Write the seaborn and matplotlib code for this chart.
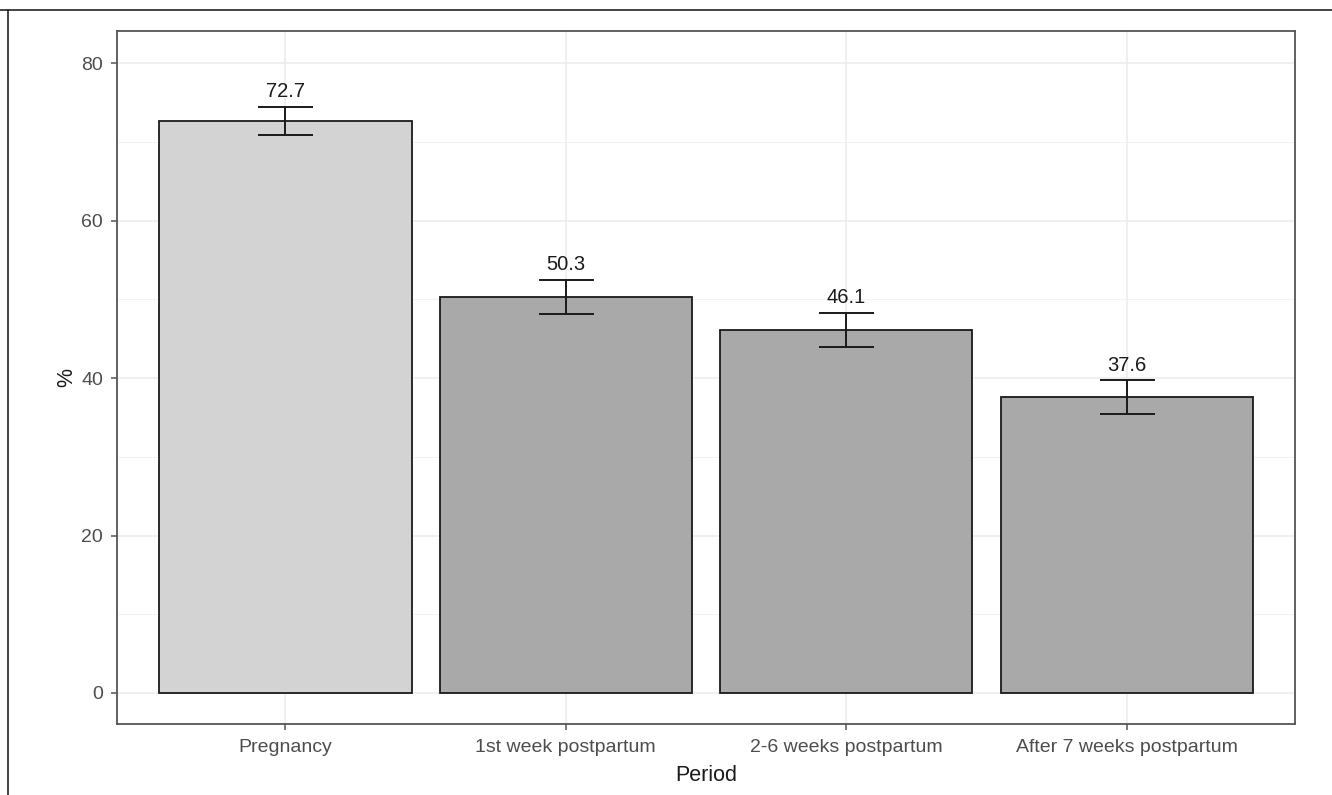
import matplotlib
matplotlib.use("Agg")
import matplotlib.pyplot as plt
from matplotlib.lines import Line2D
from matplotlib.ticker import MultipleLocator
import seaborn as sns
import pandas as pd

# data
periods = ["Pregnancy", "1st week postpartum", "2-6 weeks postpartum", "After 7 weeks postpartum"]
percent = [72.7, 50.3, 46.1, 37.6]
err = [1.8, 2.2, 2.2, 2.1]
bar_colors = ["#D3D3D3", "#A9A9A9", "#A9A9A9", "#A9A9A9"]

df = pd.DataFrame({"Period": periods, "pct": percent, "err": err})

sns.set_style("white")
plt.rcParams["font.family"] = ["Liberation Sans", "DejaVu Sans"]

fig = plt.figure(figsize=(13.32, 7.95), dpi=100)
ax = fig.add_axes([117 / 1332, 1 - 724 / 795, (1295 - 117) / 1332, (724 - 31) / 795])

sns.barplot(data=df, x="Period", y="pct", hue="Period", palette=bar_colors,
            edgecolor="#1a1a1a", linewidth=1.3, width=0.9, legend=False,
            errorbar=None, ax=ax, zorder=3)

ax.errorbar(range(len(periods)), df["pct"], yerr=df["err"], fmt="none",
            ecolor="#1a1a1a", elinewidth=1.4, capsize=19.8, capthick=1.4, zorder=4)

for i, (v, e) in enumerate(zip(percent, err)):
    ax.text(i, v + e + 0.7, f"{v:.1f}", ha="center", va="bottom",
            fontsize=14.5, color="#1a1a1a", zorder=5)

ax.set_xlim(-0.6, 3.6)
ax.set_ylim(-3.95, 84.1)
ax.yaxis.set_major_locator(MultipleLocator(20))
ax.yaxis.set_minor_locator(MultipleLocator(10))

ax.grid(True, which="major", color="#EBEBEB", linewidth=1.1, zorder=0)
ax.grid(True, which="minor", axis="y", color="#F2F2F2", linewidth=0.7, zorder=0)
ax.set_axisbelow(True)

for s in ax.spines.values():
    s.set_visible(True)
    s.set_color("#555555")
    s.set_linewidth(1.3)

ax.tick_params(axis="both", which="major", length=4, width=1.1, color="#555555",
               labelsize=14, labelcolor="#4D4D4D", left=True, bottom=True)
ax.tick_params(axis="x", pad=7)
ax.tick_params(axis="y", pad=6)
ax.tick_params(which="minor", length=0)

ax.set_xlabel("Period", fontsize=15.5, color="#1a1a1a", labelpad=6)
ax.set_ylabel("%", fontsize=15.5, color="#1a1a1a", labelpad=3)

# partial outer frame of the screenshot
fig.add_artist(Line2D([0, 1], [1 - 9.5 / 795] * 2, transform=fig.transFigure,
                      color="#222222", linewidth=1.2))
fig.add_artist(Line2D([7.5 / 1332] * 2, [0, 1 - 9.5 / 795], transform=fig.transFigure,
                      color="#222222", linewidth=1.2))

fig.savefig("out.png", dpi=100)
